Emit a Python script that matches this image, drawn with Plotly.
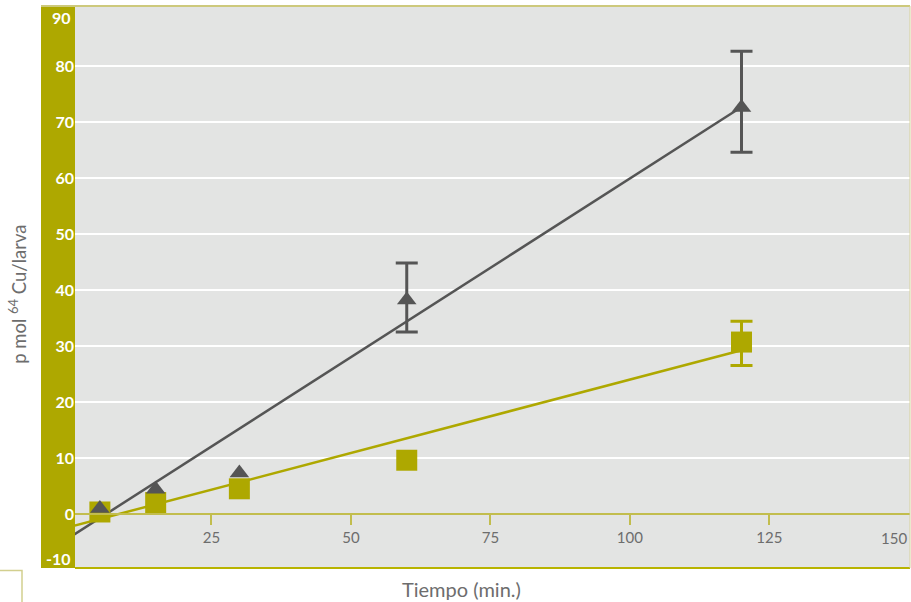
import plotly.graph_objects as go

# ---------------- data ----------------
square_time = [0, 5, 15, 30, 60, 120]
square_vals = [0.36, 0.36, 2.05, 4.5, 9.6, 30.7]
square_err_plus = [None, None, None, None, None, 3.7]
square_err_minus = [None, None, None, None, None, 4.2]

tri_time = [5, 15, 30, 60, 120]
tri_vals = [1.0, 4.4, 7.3, 38.2, 72.6]
tri_err_plus = [None, None, None, 6.6, 10.0]
tri_err_minus = [None, None, None, 5.7, 8.0]

# linear fits
tri_fit_slope, tri_fit_intercept = 0.638, -3.9
sq_fit_slope, sq_fit_intercept = 0.262, -2.2
fit_x = [0, 120]

x_tick_vals = [25, 50, 75, 100, 125, 150]
y_tick_vals = [-10, 0, 10, 20, 30, 40, 50, 60, 70, 80, 90]

x_range = [0.54, 150.2]
y_range = [-9.64, 90.7]

# ---------------- styles ----------------
OLIVE = "#aea800"
OLIVE_LIGHT = "#c2bd4e"
GREY_LINE = "#555555"
TEXT_GREY = "#6d6d6d"
PLOT_BG = "#e3e4e3"
FONT = "Lato, 'Open Sans', sans-serif"

W, H = 911, 602
ML, MR, MT, MB = 75, 1, 6, 34
PW = W - ML - MR
PH = H - MT - MB


def with_errors(xs, ys, ep, em):
    idx = [i for i, e in enumerate(ep) if e is not None]
    return ([xs[i] for i in idx], [ys[i] for i in idx],
            [ep[i] for i in idx], [em[i] for i in idx])


fig = go.Figure()

# fit lines
fig.add_trace(go.Scatter(
    x=fit_x, y=[tri_fit_intercept + tri_fit_slope * v for v in fit_x],
    mode="lines", line=dict(color=GREY_LINE, width=2.5), showlegend=False,
    hoverinfo="skip"))
fig.add_trace(go.Scatter(
    x=fit_x, y=[sq_fit_intercept + sq_fit_slope * v for v in fit_x],
    mode="lines", line=dict(color=OLIVE, width=2.5), showlegend=False,
    hoverinfo="skip"))

# error bars (only where the original shows them)
for xs, ys, ep, em, col in [
    (square_time, square_vals, square_err_plus, square_err_minus, OLIVE),
    (tri_time, tri_vals, tri_err_plus, tri_err_minus, GREY_LINE),
]:
    ex, ey, eep, eem = with_errors(xs, ys, ep, em)
    fig.add_trace(go.Scatter(
        x=ex, y=ey, mode="markers", marker=dict(size=1, opacity=0),
        error_y=dict(type="data", array=eep, arrayminus=eem, symmetric=False,
                     color=col, thickness=3, width=11),
        showlegend=False, hoverinfo="skip", cliponaxis=False))

# squares
fig.add_trace(go.Scatter(
    x=square_time, y=square_vals, mode="markers",
    marker=dict(symbol="square", size=21, color=OLIVE),
    cliponaxis=False, showlegend=False))

# triangles (drawn on top)
fig.add_trace(go.Scatter(
    x=tri_time, y=tri_vals, mode="markers",
    marker=dict(symbol="triangle-up", size=17, color=GREY_LINE),
    cliponaxis=False, showlegend=False))

x_axis_pos = (0 - y_range[0]) / (y_range[1] - y_range[0])
# paper position of the lowest tick value (it lies just below the visible range)
low_tick_paper = (y_tick_vals[0] - y_range[0]) / (y_range[1] - y_range[0])

inner_y_ticks = y_tick_vals[1:-1]
ytick_font = dict(family=FONT, size=16, color="white", weight="bold")

fig.update_layout(
    width=W, height=H,
    margin=dict(l=ML, r=MR, t=MT, b=MB),
    paper_bgcolor="white", plot_bgcolor=PLOT_BG,
    font=dict(family=FONT, color=TEXT_GREY),
    showlegend=False,
    xaxis=dict(
        range=x_range, anchor="free", position=x_axis_pos,
        tickvals=x_tick_vals[:-1], ticktext=[str(v) for v in x_tick_vals[:-1]],
        ticks="outside", ticklen=10, tickwidth=2, tickcolor=OLIVE_LIGHT,
        showline=True, linecolor=OLIVE_LIGHT, linewidth=2,
        showgrid=False, zeroline=False,
        tickfont=dict(family=FONT, size=15, color=TEXT_GREY),
    ),
    yaxis=dict(
        range=y_range, tickvals=inner_y_ticks,
        ticktext=[str(v) for v in inner_y_ticks],
        showgrid=True, gridcolor="white", gridwidth=2,
        zeroline=False, showline=False, ticks="",
        ticklabeloverflow="allow",
        tickfont=ytick_font,
    ),
    shapes=[
        # olive band behind y tick labels
        dict(type="rect", xref="paper", yref="paper",
             x0=-34 / PW, x1=0, y0=0, y1=1,
             fillcolor=OLIVE, line=dict(width=0), layer="below"),
        # top border
        dict(type="line", xref="paper", yref="paper",
             x0=-34 / PW, x1=1, y0=1, y1=1,
             line=dict(color="#cdc97c", width=2)),
        # bottom border
        dict(type="line", xref="paper", yref="paper",
             x0=0, x1=1, y0=0, y1=0,
             line=dict(color="#b8b300", width=2)),
        # right border
        dict(type="line", xref="paper", yref="paper",
             x0=1, x1=1, y0=0, y1=1,
             line=dict(color="#d6d39c", width=1)),
        # small outline box bottom-left
        dict(type="rect", xref="paper", yref="paper",
             x0=-80 / PW, x1=-53 / PW, y0=-45 / PH, y1=-2.5 / PH,
             line=dict(color="#d2cf8e", width=1.5), fillcolor="rgba(0,0,0,0)"),
    ],
    annotations=[
        # outermost y tick labels, nudged inside the band as in the original
        dict(x=0, y=y_tick_vals[-1], xref="paper", yref="y", text=str(y_tick_vals[-1]),
             showarrow=False, xanchor="right", yanchor="middle", xshift=-2, yshift=-8,
             font=ytick_font),
        dict(x=0, y=low_tick_paper, xref="paper", yref="paper", text=str(y_tick_vals[0]),
             showarrow=False, xanchor="right", yanchor="middle", xshift=-2, yshift=12,
             font=ytick_font),
        # last x tick label, kept inside the plot
        dict(x=x_tick_vals[-1], y=0, xref="x", yref="y", text=str(x_tick_vals[-1]),
             showarrow=False, xanchor="right", yanchor="middle", yshift=-24,
             font=dict(family=FONT, size=15, color=TEXT_GREY)),
        dict(x=0, y=0.486, xref="paper", yref="paper", xshift=-57,
             text="p mol <sup>64</sup> Cu/larva", textangle=-90, showarrow=False,
             xanchor="center", yanchor="middle",
             font=dict(family=FONT, size=18.5, color=TEXT_GREY)),
        dict(x=(461 - ML) / PW, y=0, xref="paper", yref="paper", yshift=-21,
             text="Tiempo (min.)", showarrow=False,
             xanchor="center", yanchor="middle",
             font=dict(family=FONT, size=20, color=TEXT_GREY)),
    ],
)

fig.write_html(
    "out.html",
    config={"displayModeBar": False},
    post_script="document.body.style.margin='0';document.body.style.padding='0';",
)
